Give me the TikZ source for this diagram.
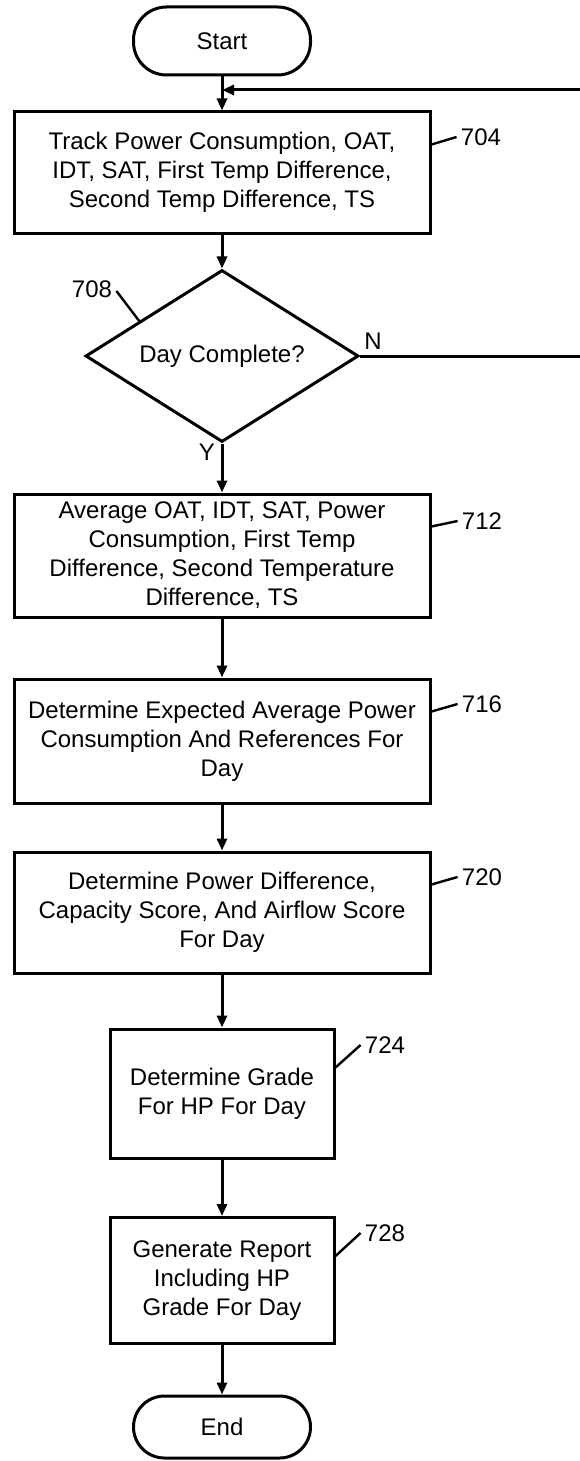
\documentclass[tikz,border=0pt]{standalone}
\usepackage{fontspec}
\setmainfont{Liberation Sans}
\usetikzlibrary{shapes.geometric,arrows.meta,calc}

\begin{document}
\begin{tikzpicture}[x=0.5pt,y=-0.5pt,
  every node/.style={font=\fontsize{12pt}{14.5pt}\selectfont},
  flow/.style={line width=1.5pt,-{Triangle[length=6pt,width=5pt]}},
  stepbox/.style={draw,line width=1.5pt,rectangle,align=center,inner sep=2pt},
  terminal/.style={draw,line width=1.5pt,rectangle,rounded corners=16.5pt,
    minimum width=88.5pt,minimum height=34pt,inner sep=0pt},
  decision/.style={draw,line width=1.5pt,diamond,shape aspect=1.59,
    minimum width=136.5pt,minimum height=86pt,inner sep=0pt},
  leader/.style={line width=1.2pt},
  reflabel/.style={inner sep=0pt}
]
\useasboundingbox (0,0) rectangle (579,1461);

% process chain
\node[terminal] (start) at (222,41) {Start};
\node[stepbox,minimum width=208pt,minimum height=60.5pt] (b704) at (222,172.5)
  {Track Power Consumption, OAT,\\IDT, SAT, First Temp Difference,\\Second Temp Difference, TS};
\node[decision] (dec) at (222,356) {Day Complete?};
\node[stepbox,minimum width=208pt,minimum height=61.5pt] (b712) at (222,555.5)
  {Average OAT, IDT, SAT, Power\\Consumption, First Temp\\Difference, Second Temperature\\Difference, TS};
\node[stepbox,minimum width=208pt,minimum height=62pt] (b716) at (222,741)
  {Determine Expected Average Power\\Consumption And References For\\Day};
\node[stepbox,minimum width=208pt,minimum height=60.5pt] (b720) at (222,912.5)
  {Determine Power Difference,\\Capacity Score, And Airflow Score\\For Day};
\node[stepbox,minimum width=112pt,minimum height=64.5pt] (b724) at (222,1093.5)
  {Determine Grade\\For HP For Day};
\node[stepbox,minimum width=112pt,minimum height=63pt] (b728) at (222,1280.5)
  {Generate Report\\Including HP\\Grade For Day};
\node[terminal,minimum height=31pt,rounded corners=15.5pt] (stop) at (222,1427) {End};

% reference numerals
\node[reflabel] (l704) at (481,137) {704};
\node[reflabel] (l708) at (92,289) {708};
\node[reflabel] (l712) at (482,521) {712};
\node[reflabel] (l716) at (482,704) {716};
\node[reflabel] (l720) at (482,877) {720};
\node[reflabel] (l724) at (385,1045) {724};
\node[reflabel] (l728) at (385,1233) {728};

% branch labels
\node[reflabel] (lN) at (373,341) {N};
\node[reflabel] (lY) at (207,452) {Y};

% leaders
\draw[leader] ([xshift=-2pt]l704.west) -- ($(b704.north east)+(0,34)$);
\draw[leader] ([xshift=2pt,yshift=-1pt]l708.east) -- ($(dec.west)!0.4!(dec.north)$);
\draw[leader] ([xshift=-2pt]l712.west) -- ($(b712.north east)+(0,34)$);
\draw[leader] ([xshift=-2pt]l716.west) -- ($(b716.north east)+(0,34)$);
\draw[leader] ([xshift=-2pt]l720.west) -- ($(b720.north east)+(0,34)$);
\draw[leader] ([xshift=-2pt]l724.west) -- ($(b724.north east)+(0,40)$);
\draw[leader] ([xshift=-2pt]l728.west) -- ($(b728.north east)+(0,40)$);

% connectors
\coordinate (merge) at (222,90);
\coordinate (back) at (581,90);
\draw[flow] (start) -- (b704);
\draw[flow] (b704) -- (dec);
\draw[flow] (dec.east) -- (dec.east -| back) -- (back) -- (merge);
\draw[flow] (dec) -- (b712);
\draw[flow] (b712) -- (b716);
\draw[flow] (b716) -- (b720);
\draw[flow] (b720) -- (b724);
\draw[flow] (b724) -- (b728);
\draw[flow] (b728) -- (stop);
\end{tikzpicture}
\end{document}
